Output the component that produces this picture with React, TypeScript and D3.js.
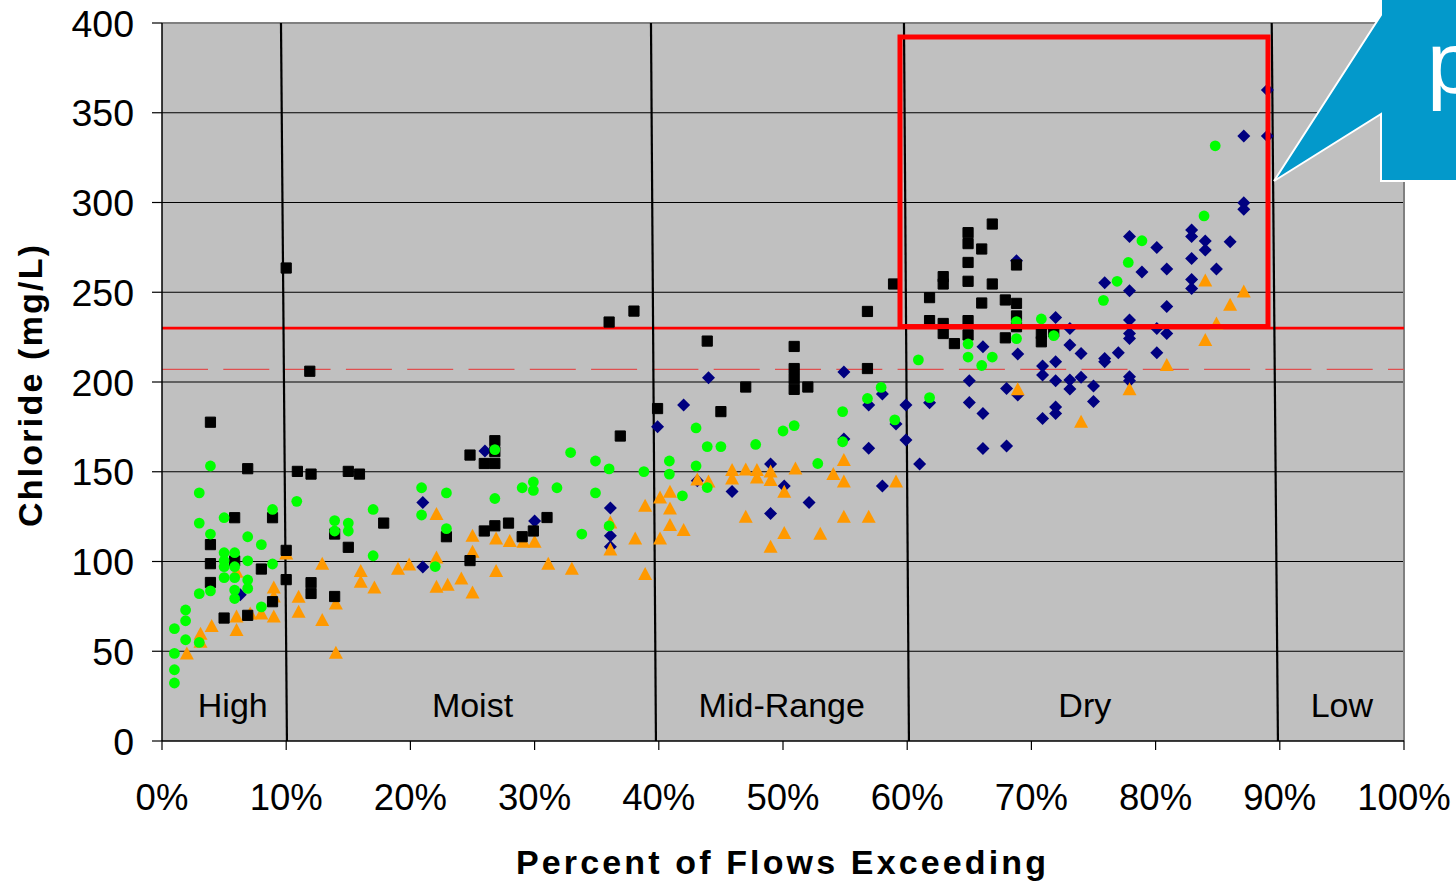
import React from "react";
import * as d3 from "d3";

// ---- data (x = percent of flows exceeding, y = chloride mg/L) ----
const xTicks = [0, 10, 20, 30, 40, 50, 60, 70, 80, 90, 100];
const yTicks = [0, 50, 100, 150, 200, 250, 300, 350, 400];

const zoneNames = ["High", "Moist", "Mid-Range", "Dry", "Low"];
const zoneLabelX = [5.7, 25, 49.9, 74.3, 95];
// divider lines: [x at top (400), x at bottom (0)]
const dividers: [number, number][] = [
  [9.58, 10.06],
  [39.37, 39.77],
  [59.74, 60.14],
  [89.35, 89.85],
];

const standardLine = 230;
const dashedLine = 207;
const highlightBox = { x0: 59.42, x1: 89.05, y0: 230.9, y1: 392.2 };

const squarePts: [number, number][] = [
  [3.9, 177.6], [6.9, 151.7], [10.9, 150.2], [12.0, 148.7], [15.0, 150.2], [15.9, 148.7],
  [5.85, 124.4], [8.9, 124.4], [17.85, 121.4], [13.9, 115.3], [3.9, 109.4], [15.0, 107.9],
  [10.0, 106.2], [3.9, 98.8], [5.85, 100.3], [8.0, 95.8], [3.9, 88.3], [10.0, 89.9],
  [12.0, 88.2], [12.0, 82.2], [13.9, 80.5], [8.9, 77.6], [5.0, 68.5], [6.9, 70.0],
  [10.0, 263.5], [11.9, 206.0], [22.9, 113.8], [24.8, 159.3], [24.8, 100.5], [26.8, 167.3],
  [26.8, 161.2], [25.95, 154.6], [26.8, 154.6], [36.9, 169.9], [25.95, 117.0], [26.8, 119.9],
  [27.9, 121.4], [29.0, 113.8], [29.9, 117.0], [31.0, 124.5], [36.0, 233.4], [38.0, 239.5],
  [39.9, 185.2], [43.9, 222.8], [47.0, 197.2], [45.0, 183.5], [50.9, 219.8], [50.9, 207.5],
  [50.9, 201.8], [50.9, 195.9], [52.0, 197.2], [56.8, 239.3], [56.8, 207.5], [58.9, 254.6],
  [66.85, 288.0], [64.9, 283.2], [64.9, 277.1], [66.0, 274.1], [64.9, 266.6], [62.9, 258.7],
  [62.9, 254.6], [64.9, 256.1], [66.85, 254.6], [61.8, 247.0], [66.0, 244.0], [67.9, 245.7],
  [68.8, 243.8], [68.8, 265.2], [61.8, 234.2], [62.9, 232.6], [62.9, 227.0], [64.9, 234.2],
  [64.9, 226.2], [63.8, 221.4], [68.8, 236.8], [68.8, 230.8], [67.9, 224.6], [70.8, 227.0],
  [70.8, 222.4], [71.8, 228.0],
];

const diamondPts: [number, number][] = [
  [6.3, 81.5], [26.0, 161.6], [21.0, 132.8], [21.0, 96.9], [30.0, 122.6], [36.1, 129.8],
  [36.1, 114.3], [36.1, 108.2], [39.9, 175.1], [44.0, 202.4], [42.0, 187.2], [54.9, 205.6],
  [56.9, 187.2], [58.0, 193.3], [59.9, 187.2], [59.1, 176.6], [54.9, 168.2], [56.9, 163.1],
  [59.9, 167.7], [49.0, 154.3], [43.1, 145.0], [45.9, 139.0], [50.1, 142.1], [58.0, 142.1],
  [52.1, 132.8], [49.0, 126.7],
  [68.8, 267.5], [71.95, 235.9], [73.1, 229.8], [66.1, 219.7], [68.9, 215.6], [73.1, 220.6],
  [74.0, 215.9], [71.95, 211.3], [70.9, 208.9], [70.9, 203.9], [65.0, 200.7], [68.0, 196.4],
  [68.9, 192.8], [71.95, 200.7], [73.1, 201.1], [73.1, 196.1], [74.0, 202.6], [61.8, 188.4],
  [65.0, 188.6], [66.1, 182.5], [70.9, 179.6], [71.95, 186.1], [71.95, 182.5], [61.0, 154.3],
  [66.1, 163.0], [68.0, 164.3],
  [89.0, 362.7], [87.1, 337.0], [89.0, 337.0], [87.1, 299.9], [87.1, 296.2], [82.9, 284.7],
  [82.9, 281.0], [77.9, 281.0], [80.1, 274.9], [84.0, 278.6], [86.0, 278.2], [84.0, 273.5],
  [78.9, 261.3], [80.9, 263.0], [82.9, 268.8], [84.9, 263.0], [75.9, 255.3], [77.9, 250.8],
  [82.9, 257.1], [82.9, 252.1], [80.9, 242.0], [77.9, 234.6], [77.9, 227.0], [77.9, 224.2],
  [80.1, 229.8], [80.9, 227.0], [75.9, 213.1], [75.9, 211.3], [77.0, 216.3], [80.1, 216.3],
  [75.0, 197.8], [77.9, 202.9], [77.9, 200.7], [75.0, 189.1],
];

const circlePts: [number, number][] = [
  [8.9, 129.0], [10.85, 133.5], [3.0, 121.4], [5.0, 124.4], [3.9, 115.3], [6.9, 113.8],
  [8.0, 109.4], [5.0, 104.9], [5.85, 104.9], [5.0, 100.4], [5.0, 97.1], [5.85, 97.1],
  [6.9, 100.4], [8.9, 98.6], [5.0, 91.0], [5.85, 91.0], [6.9, 89.7], [6.9, 85.0],
  [5.85, 84.1], [5.85, 79.4], [3.9, 83.6], [3.0, 82.1], [8.0, 74.7], [1.9, 73.0],
  [1.9, 67.0], [1.0, 62.6], [1.9, 56.4], [3.0, 54.9], [1.0, 48.8], [1.0, 39.7],
  [1.0, 32.3], [3.9, 153.2], [3.0, 138.2],
  [13.9, 122.8], [15.0, 121.4], [13.9, 117.0], [15.0, 117.0], [17.0, 129.0], [17.0, 103.2],
  [20.9, 141.1], [22.9, 138.2], [20.9, 125.9], [22.9, 118.3], [22.0, 97.2],
  [26.8, 162.3], [32.9, 160.7], [34.9, 156.0], [36.0, 151.6], [38.8, 150.1], [26.8, 135.1],
  [29.0, 141.1], [29.9, 144.3], [29.9, 139.6], [31.8, 141.1], [34.9, 138.2], [33.8, 115.3],
  [36.0, 119.8],
  [40.85, 156.0], [40.85, 148.7], [41.9, 136.6], [43.0, 174.4], [43.0, 153.2], [43.9, 164.0],
  [45.0, 164.0], [43.9, 141.2], [47.8, 165.2], [50.0, 172.7], [50.9, 175.7], [52.8, 154.6],
  [54.8, 183.5], [54.8, 166.7], [56.8, 190.8], [57.9, 197.0], [59.0, 178.9],
  [60.9, 212.3], [61.8, 191.3], [64.9, 221.2], [64.9, 213.9], [66.0, 209.2], [66.85, 213.9],
  [68.8, 233.6], [68.8, 224.2], [70.8, 235.1], [71.8, 225.8],
  [84.8, 331.6], [83.9, 292.5], [78.9, 278.7], [77.8, 266.6], [76.9, 256.1], [75.8, 245.5],
];

const trianglePts: [number, number][] = [
  [2.0, 48.7], [3.1, 59.8], [3.1, 55.3], [4.0, 64.1], [6.0, 69.3], [6.0, 61.8],
  [7.1, 71.1], [8.0, 71.1], [9.0, 69.3], [9.0, 85.5], [9.0, 80.5], [11.0, 80.4],
  [11.0, 72.0], [10.0, 104.4], [6.0, 94.3],
  [12.9, 98.8], [12.9, 67.4], [14.0, 76.6], [14.0, 49.1], [16.0, 94.7], [16.0, 88.7],
  [17.1, 85.5], [19.0, 96.0], [19.9, 98.3], [22.1, 126.5], [22.1, 102.2], [22.1, 86.0],
  [23.0, 87.1], [24.1, 90.5],
  [25.0, 82.7], [25.0, 114.3], [25.0, 105.5], [26.9, 112.8], [26.9, 94.7], [28.0, 111.4],
  [29.1, 111.0], [30.0, 111.0], [31.1, 98.8], [33.0, 96.0], [36.1, 121.7], [36.1, 106.7],
  [38.1, 112.8], [38.9, 131.1], [38.9, 93.0],
  [40.1, 135.7], [40.9, 138.8], [40.9, 129.5], [40.9, 120.3], [42.0, 117.5], [40.1, 112.8],
  [43.1, 145.7], [44.0, 144.5], [45.9, 151.0], [45.9, 146.2], [47.0, 151.3], [47.9, 151.0],
  [47.9, 146.8], [49.0, 150.1], [49.0, 145.4], [51.0, 151.8], [50.1, 138.8], [47.0, 124.9],
  [50.1, 115.9], [49.0, 108.2], [53.0, 115.5], [54.9, 156.5], [54.05, 148.7], [54.9, 144.5],
  [54.9, 124.9], [56.9, 124.9], [59.1, 144.5],
  [68.9, 195.9], [74.0, 177.9], [84.0, 256.5], [87.1, 250.4], [86.0, 243.0], [84.9, 232.6],
  [84.0, 223.4], [80.9, 209.5], [77.9, 195.9],
];

const FONT = "'Liberation Sans', Arial, sans-serif";

export default function App() {
  const W = 1456, H = 881;
  const x = d3.scaleLinear().domain([0, 100]).range([162, 1404]);
  const y = d3.scaleLinear().domain([0, 400]).range([741, 23]);

  const squarePath = d3.symbol().type(d3.symbolSquare).size(104)() as string;
  const diamondPath = "M0,-6.5L6.5,0L0,6.5L-6.5,0Z";
  const trianglePath = "M0,-7L7,6L-7,6Z";

  const callout: [number, number][] = [
    [1381, -3], [1381, 15], [1274, 181], [1381, 114], [1381, 181], [1460, 181], [1460, -3],
  ];

  return (
    <svg width={W} height={H} style={{ position: "absolute", left: 0, top: 0, background: "#fff" }}>
      {/* plot area */}
      <rect x={x(0)} y={y(400)} width={x(100) - x(0)} height={y(0) - y(400)} fill="#C0C0C0" />
      {/* grid lines */}
      {yTicks.filter((t) => t > 0 && t < 400).map((t) => (
        <line key={t} x1={x(0)} x2={x(100)} y1={y(t)} y2={y(t)} stroke="#000" strokeWidth={1} />
      ))}
      {/* frame top / right */}
      <line x1={x(0)} x2={x(100)} y1={y(400)} y2={y(400)} stroke="#808080" strokeWidth={2} />
      <line x1={x(100)} x2={x(100)} y1={y(400)} y2={y(0)} stroke="#808080" strokeWidth={2} />
      {/* reference lines */}
      <line x1={x(0)} x2={x(100)} y1={y(dashedLine)} y2={y(dashedLine)} stroke="#E05050" strokeWidth={1.3} strokeDasharray="46 15.3" />
      <line x1={x(0)} x2={x(100)} y1={y(standardLine)} y2={y(standardLine)} stroke="#FF0000" strokeWidth={2.7} />
      {/* dividers */}
      {dividers.map((d, i) => (
        <line key={i} x1={x(d[0])} y1={y(400)} x2={x(d[1])} y2={y(0)} stroke="#000" strokeWidth={2.2} />
      ))}
      {/* markers */}
      {diamondPts.map((p, i) => (
        <path key={"d" + i} d={diamondPath} transform={`translate(${x(p[0])},${y(p[1])})`} fill="#000080" />
      ))}
      {trianglePts.map((p, i) => (
        <path key={"t" + i} d={trianglePath} transform={`translate(${x(p[0])},${y(p[1])})`} fill="#FF9900" />
      ))}
      {squarePts.map((p, i) => (
        <path key={"s" + i} d={squarePath} transform={`translate(${x(p[0])},${y(p[1])})`} fill="#000" stroke="#000" strokeWidth={1} strokeLinejoin="round" />
      ))}
      {circlePts.map((p, i) => (
        <circle key={"c" + i} cx={x(p[0])} cy={y(p[1])} r={5.4} fill="#00FF00" />
      ))}
      {/* highlight box */}
      <rect
        x={x(highlightBox.x0)}
        y={y(highlightBox.y1)}
        width={x(highlightBox.x1) - x(highlightBox.x0)}
        height={y(highlightBox.y0) - y(highlightBox.y1)}
        fill="none"
        stroke="#FF0000"
        strokeWidth={5}
      />
      {/* zone labels */}
      {zoneNames.map((n, i) => (
        <text key={n} x={x(zoneLabelX[i])} y={717} textAnchor="middle" fontFamily={FONT} fontSize={34} fill="#000">
          {n}
        </text>
      ))}
      {/* axes */}
      <line x1={x(0)} x2={x(0)} y1={y(400)} y2={y(0)} stroke="#000" strokeWidth={1.5} />
      <line x1={x(0)} x2={x(100)} y1={y(0)} y2={y(0)} stroke="#000" strokeWidth={1.5} />
      {yTicks.map((t) => (
        <g key={t}>
          <line x1={x(0) - 10} x2={x(0)} y1={y(t)} y2={y(t)} stroke="#000" strokeWidth={1.2} />
          <text x={134} y={y(t)} dy="0.36em" textAnchor="end" fontFamily={FONT} fontSize={37.5} fill="#000">
            {t}
          </text>
        </g>
      ))}
      {xTicks.map((t) => (
        <g key={t}>
          <line x1={x(t)} x2={x(t)} y1={y(0)} y2={y(0) + 9} stroke="#000" strokeWidth={1.2} />
          <text x={x(t)} y={810} textAnchor="middle" fontFamily={FONT} fontSize={36.5} fill="#000">
            {t}%
          </text>
        </g>
      ))}
      <text
        transform="translate(42,386) rotate(-90)"
        textAnchor="middle"
        fontFamily={FONT}
        fontWeight="bold"
        fontSize={34}
        textLength={282}
        lengthAdjust="spacing"
        fill="#000"
      >
        Chloride (mg/L)
      </text>
      <text
        x={781}
        y={874}
        textAnchor="middle"
        fontFamily={FONT}
        fontWeight="bold"
        fontSize={34}
        textLength={530}
        lengthAdjust="spacing"
        fill="#000"
      >
        Percent of Flows Exceeding
      </text>
      {/* callout */}
      <path d={d3.line()(callout) + "Z"} fill="#0399CB" stroke="#FFFFFF" strokeWidth={2} />
      <text x={1427} y={93} fontFamily={FONT} fontSize={88} fill="#FFFFFF">
        p
      </text>
    </svg>
  );
}
